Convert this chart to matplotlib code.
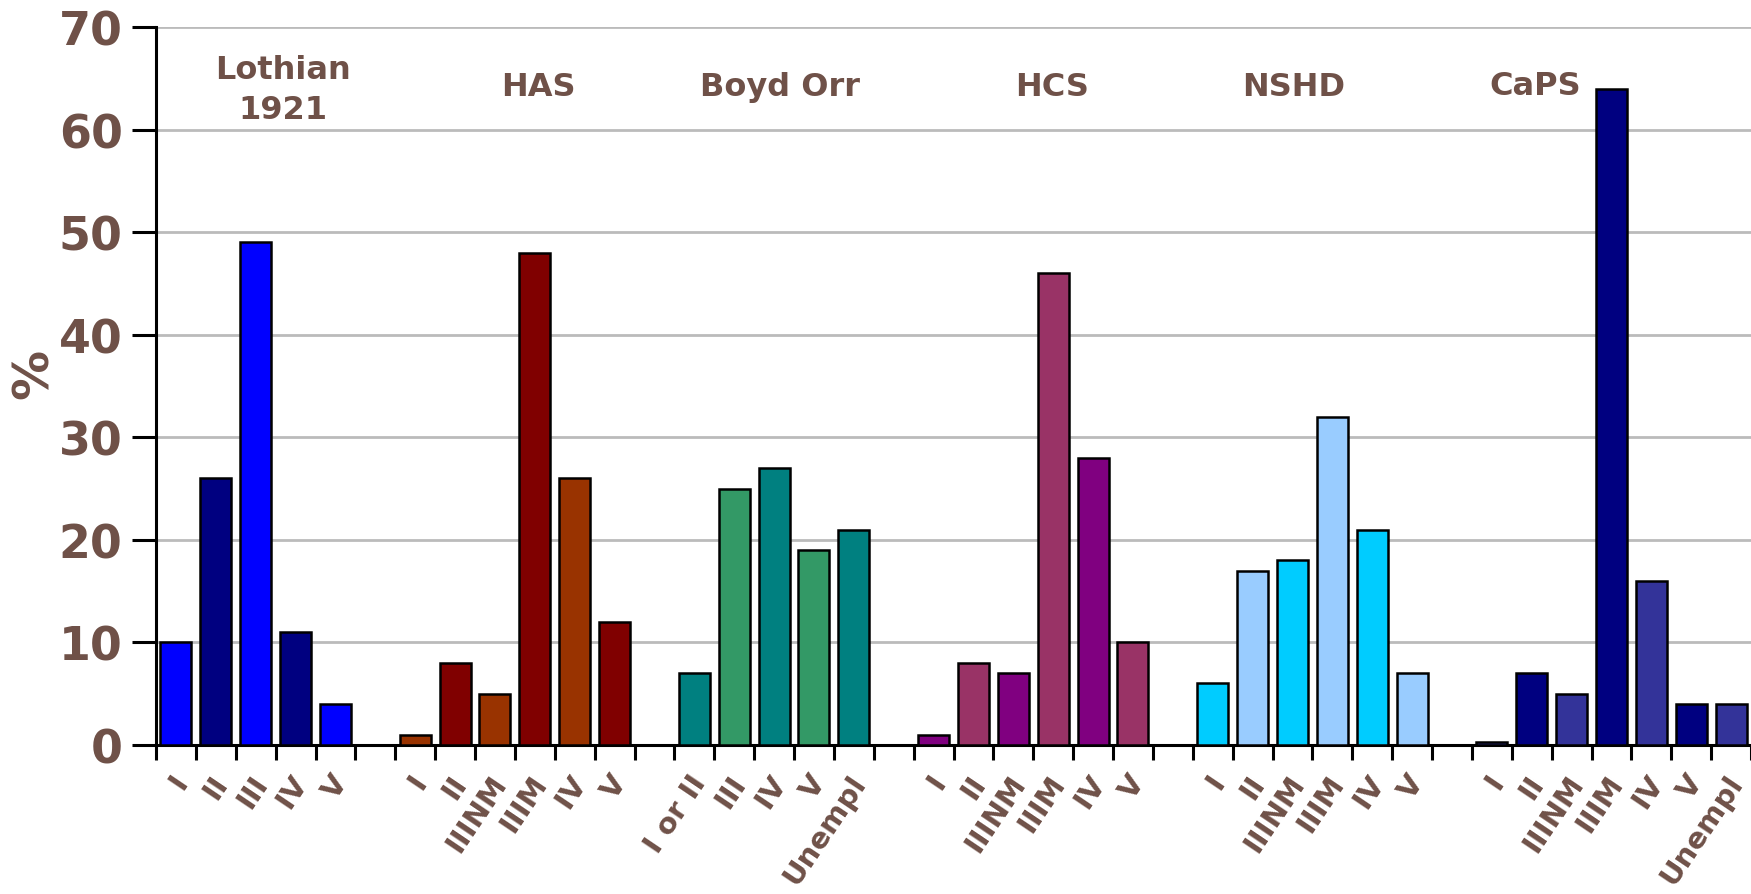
import matplotlib
matplotlib.use("Agg")
import matplotlib.pyplot as plt
import numpy as np

# Social class distribution (%) by study
studies = ["Lothian\n1921", "HAS", "Boyd Orr", "HCS", "NSHD", "CaPS"]

lothian_classes = ["I", "II", "III", "IV", "V"]
lothian_values = [10, 26, 49, 11, 4]

has_classes = ["I", "II", "IIINM", "IIIM", "IV", "V"]
has_values = [1, 8, 5, 48, 26, 12]

boydorr_classes = ["I or II", "III", "IV", "V", "Unempl"]
boydorr_values = [7, 25, 27, 19, 21]

hcs_classes = ["I", "II", "IIINM", "IIIM", "IV", "V"]
hcs_values = [1, 8, 7, 46, 28, 10]

nshd_classes = ["I", "II", "IIINM", "IIIM", "IV", "V"]
nshd_values = [6, 17, 18, 32, 21, 7]

caps_classes = ["I", "II", "IIINM", "IIIM", "IV", "V", "Unempl"]
caps_values = [0.3, 7, 5, 64, 16, 4, 4]

# Two alternating fill colours per study
lothian_colors = ["#0000FF", "#000080"]
has_colors = ["#993300", "#800000"]
boydorr_colors = ["#008080", "#339966"]
hcs_colors = ["#800080", "#993366"]
nshd_colors = ["#00CCFF", "#99CCFF"]
caps_colors = ["#333399", "#000080"]

groups = [
    (lothian_classes, lothian_values, lothian_colors),
    (has_classes, has_values, has_colors),
    (boydorr_classes, boydorr_values, boydorr_colors),
    (hcs_classes, hcs_values, hcs_colors),
    (nshd_classes, nshd_values, nshd_colors),
    (caps_classes, caps_values, caps_colors),
]

# Study title positions (category units, % units)
title_x = [3.18, 9.6, 15.64, 22.48, 28.54, 34.58]
title_y = [63.9, 64.2, 64.2, 64.2, 64.2, 64.3]

TEXT = "#6F5148"
FONT = "DejaVu Sans"

fig = plt.figure(figsize=(17.51, 8.95), dpi=100)
ax = fig.add_axes([156 / 1751, 149 / 895, 1 - 156 / 1751, (746 - 28) / 895])

xs, labels = [], []
pos = 0
for classes, values, cols in groups:
    for i, (c, v) in enumerate(zip(classes, values)):
        x = pos + 0.5
        ax.bar(x, v, width=0.78, color=cols[i % 2], edgecolor="black",
               linewidth=1.8, zorder=3)
        xs.append(x)
        labels.append(c)
        pos += 1
    pos += 1  # gap slot between studies
n_slots = pos - 1

ax.set_xlim(0, n_slots)
ax.set_ylim(0, 70)
ax.set_yticks(np.arange(0, 71, 10))
ax.yaxis.grid(True, color="#BBBBBB", linewidth=2.0, zorder=0)
ax.set_axisbelow(True)

for s in ["top", "right"]:
    ax.spines[s].set_visible(False)
for s in ["left", "bottom"]:
    ax.spines[s].set_linewidth(2.2)
    ax.spines[s].set_color("black")

ax.tick_params(axis="y", length=17, width=2.2, pad=7, labelsize=33,
               labelcolor=TEXT)
for t in ax.get_yticklabels():
    t.set_fontweight("bold")
    t.set_family(FONT)

# Boundary ticks at each category slot
ax.set_xticks(np.arange(0, n_slots + 1))
ax.set_xticklabels([])
ax.tick_params(axis="x", length=11, width=2.2)

for x, lab in zip(xs, labels):
    ax.annotate(lab, xy=(x, 0), xycoords=("data", "axes fraction"),
                xytext=(6, -32), textcoords="offset pixels",
                rotation=56, rotation_mode="anchor", ha="right", va="center",
                fontsize=21, fontweight="bold", color=TEXT, family=FONT,
                annotation_clip=False)

for name, tx, ty in zip(studies, title_x, title_y):
    ax.text(tx, ty, name, ha="center", va="center", multialignment="center",
            fontsize=23, fontweight="bold", color=TEXT, family=FONT,
            linespacing=1.35, zorder=4)

fig.text(34 / 1751, 1 - 374 / 895, "%", rotation=90, ha="center", va="center",
         fontsize=36, fontweight="bold", color=TEXT, family=FONT)

fig.savefig("out.png", dpi=100)
